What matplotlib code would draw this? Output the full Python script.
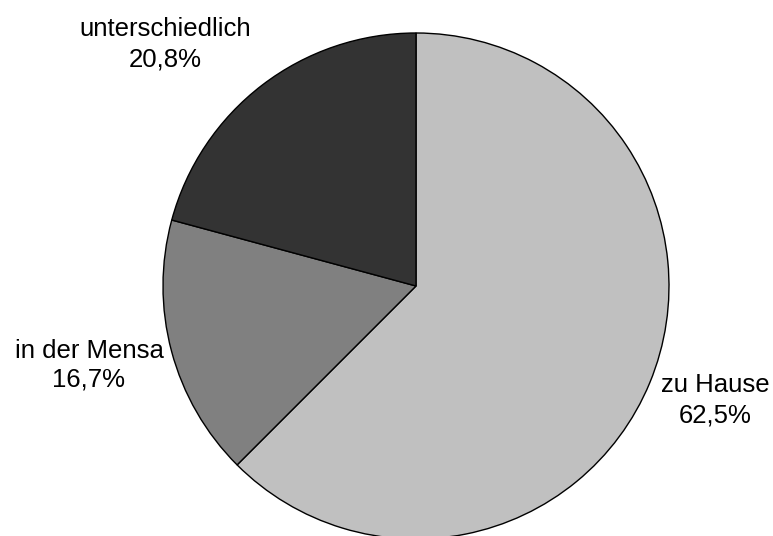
import matplotlib
matplotlib.use("Agg")
import matplotlib.pyplot as plt

categories = ["zu Hause", "in der Mensa", "unterschiedlich"]
values = [62.5, 16.7, 20.8]
pct_labels = ["62,5%", "16,7%", "20,8%"]
colors = ["#C0C0C0", "#808080", "#333333"]

W, H = 773, 536
fig = plt.figure(figsize=(W / 100, H / 100), dpi=100)
plt.rcParams['font.family'] = ['Liberation Sans', 'DejaVu Sans']

# pie center (416, 286) px, radius ~253 px
cx, cy, r = 416, 286, 253
ax = fig.add_axes([(cx - r) / W, 1 - (cy + r) / H, 2 * r / W, 2 * r / H])
ax.pie(values, colors=colors, startangle=90, counterclock=False,
       wedgeprops=dict(edgecolor="black", linewidth=1.0))
ax.set_xlim(-1, 1)
ax.set_ylim(-1, 1)
ax.set_aspect("equal")
ax.axis("off")

# label positions in pixels (center x, baseline of first line, baseline of second line)
label_pos = [(715, 392, 422), (89, 358, 387), (165, 36, 67)]
fs = 18.5
for name, pct, (x, y1, y2) in zip(categories, pct_labels, label_pos):
    fig.text(x / W, 1 - y1 / H, name, ha="center", va="baseline", fontsize=fs)
    fig.text(x / W, 1 - y2 / H, pct, ha="center", va="baseline", fontsize=fs)

fig.savefig("out.png", dpi=100)
